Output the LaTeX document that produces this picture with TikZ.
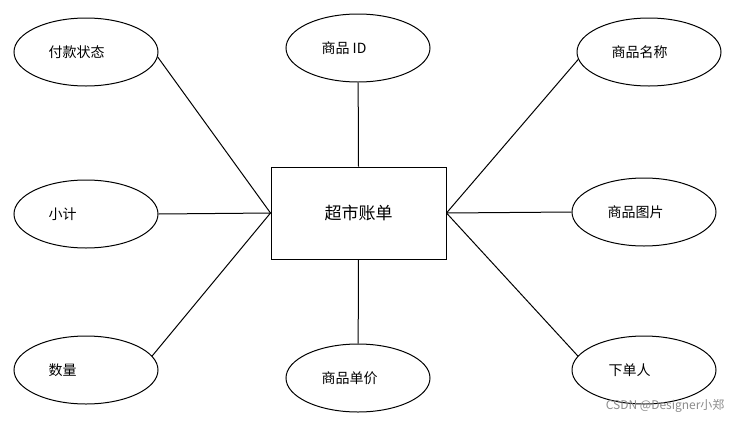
\documentclass[tikz,border=0pt]{standalone}
\usepackage{fontspec}
\newfontfamily\cjk{Noto Sans CJK SC}
\usetikzlibrary{shapes.geometric}
\begin{document}
\begin{tikzpicture}[x=1pt,y=-1pt,
  attr/.style={draw,line width=1pt,ellipse,minimum width=144pt,minimum height=68pt},
  txt/.style={font=\cjk\fontsize{14}{16}\selectfont,anchor=west},
  ent/.style={draw,line width=1pt,rectangle,minimum width=175pt,minimum height=92pt,font=\cjk\fontsize{17}{20}\selectfont},
  link/.style={line width=1pt}]
\useasboundingbox (0,0) rectangle (732,424);
\node[ent] (bill) at (358.5,213) {超市账单};
\node[attr] (pay) at (86,52) {};
\node[attr] (id) at (358,48) {};
\node[attr] (name) at (649,52) {};
\node[attr] (sub) at (86,214) {};
\node[attr] (img) at (644,212) {};
\node[attr] (qty) at (86,370) {};
\node[attr] (price) at (358,378) {};
\node[attr] (user) at (644,370) {};
\node[txt] (tpay) at (45,52) {付款状态};
\node[txt] (tid) at (318,48) {商品 ID};
\node[txt] (tname) at (608,52) {商品名称};
\node[txt] (tsub) at (45,214) {小计};
\node[txt] (timg) at (604,212) {商品图片};
\node[txt] (tqty) at (45,370) {数量};
\node[txt] (tprice) at (318,378) {商品单价};
\node[txt] (tuser) at (605,370) {下单人};
\draw[link] (bill.west) -- (pay.-4);
\draw[link] (bill.west) -- (sub.east);
\draw[link] (bill.west) -- (qty.12);
\draw[link] (bill.east) -- (name.186);
\draw[link] (bill.east) -- (img.west);
\draw[link] (bill.east) -- (user.168);
\draw[link] (bill.north) -- (id);
\draw[link] (bill.south) -- (price);
\node[font=\cjk\fontsize{12}{14}\selectfont, text=black!45, anchor=east] (wm) at (728,406) {CSDN @Designer小郑};
\end{tikzpicture}
\end{document}
